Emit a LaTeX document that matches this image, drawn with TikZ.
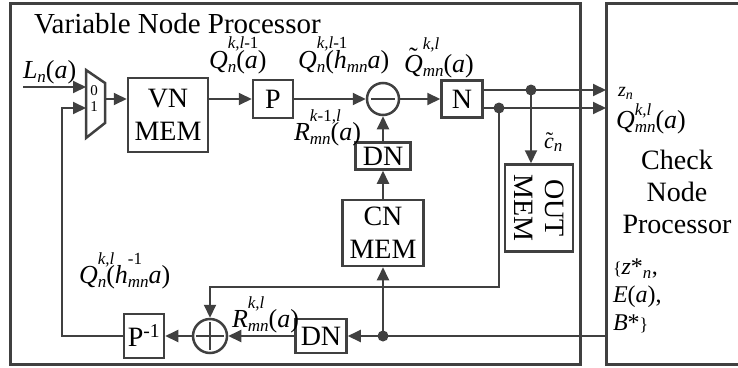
\documentclass[tikz,border=0pt]{standalone}
\usepackage{fontspec}
\setmainfont{Liberation Serif}
\usetikzlibrary{arrows.meta, positioning}

\newcommand{\lfnt}{\fontsize{26}{28}\selectfont}
\newcommand{\sfnt}{\fontsize{17}{17}\selectfont\itshape}
% symbol with stacked sub- and superscript
\newcommand{\ssb}[4][0.72em]{\textit{#2}\rlap{\raisebox{#1}{\sfnt #4}}\raisebox{-0.18em}{\sfnt #3}}
% letters with a tilde on top
\newcommand{\tq}{\rlap{\hspace{0.2em}\raisebox{0.24em}{\char"02DC}}\textit{Q}}
\newcommand{\tc}{\rlap{\hspace{0.08em}\raisebox{0.02em}{\char"02DC}}\textit{c}}

\begin{document}
\begin{tikzpicture}[x=1pt, y=-1pt, line width=2pt,
  box/.style={draw=wire, line width=2.5pt, fill=white, inner sep=0pt, align=center, font=\fontsize{28}{33}\selectfont},
  opcircle/.style={draw=wire, line width=2.5pt, fill=white, circle, minimum size=#1, inner sep=0pt},
  lbl/.style={inner sep=0pt, font=\lfnt},
  arr/.style={draw=wire, -{Triangle[length=13pt, width=12pt]}},
  dot/.style={circle, fill=wire, inner sep=0pt, minimum size=11pt}]

  % Colors
  \definecolor{wire}{RGB}{64,64,64}

  \useasboundingbox (0,0) rectangle (738,367);

  % Variable node processor frame
  \draw[draw=wire, line width=3pt] (10,3) rectangle (580,364);
  \node[anchor=base west, inner sep=0pt, font=\fontsize{29}{30}\selectfont] (vnptitle) at (33,33) {Variable Node Processor};

  % Check node processor frame (cut at the right edge)
  \draw[draw=wire, line width=3pt] (745,3) -- (606,3) -- (606,364) -- (745,364);
  \node[align=center, inner sep=0pt, font=\fontsize{28}{32}\selectfont] (cnptitle) at (677,192) {Check\\Node\\Processor};

  % Input multiplexer
  \draw[draw=wire, line width=2.5pt, fill=white] (86,70) -- (105,83) -- (105,123) -- (86,138) -- cycle;
  \node[inner sep=0pt, font=\fontsize{15}{15}\selectfont] (mux0) at (94,91) {0};
  \node[inner sep=0pt, font=\fontsize{15}{15}\selectfont] (mux1) at (94,107) {1};
  \coordinate (muxin0) at (86,87);
  \coordinate (muxin1) at (86,108);
  \coordinate (muxout) at (105,99);

  % Blocks
  \node[box, minimum width=80pt, minimum height=74pt] (vnmem) at (168,115) {VN\\MEM};
  \node[box, minimum width=40pt, minimum height=38pt] (p) at (273,99) {P};
  \node[opcircle=32pt] (minus) at (383,99) {};
  \node[box, minimum width=41pt, minimum height=37pt] (n) at (462,99) {N};
  \node[box, minimum width=55pt, minimum height=27pt] (dn1) at (383,156) {DN};
  \node[box, minimum width=81pt, minimum height=66pt] (cnmem) at (383,233) {CN\\MEM};
  \node[box, rotate=-90, minimum width=87pt, minimum height=68pt, font=\fontsize{28}{31}\selectfont] (outmem) at (539,208) {OUT\\MEM};
  \node[box, minimum width=51pt, minimum height=34pt] (dn2) at (321,336) {DN};
  \node[opcircle=34pt] (plus) at (210,336) {};
  \node[box, minimum width=40pt, minimum height=44pt] (pinv) at (144,336) {P\textsuperscript{-1}};

  % Signs in the circles
  \draw[draw=wire, line width=2.5pt] ([xshift=5pt]minus.west) -- ([xshift=-5pt]minus.east);
  \draw[draw=wire, line width=2.5pt] ([xshift=4pt]plus.west) -- ([xshift=-4pt]plus.east);
  \draw[draw=wire, line width=2.5pt] ([yshift=-4pt]plus.north) -- ([yshift=4pt]plus.south);

  % Junctions
  \node[dot] (dtop) at (531,90) {};
  \node[dot] (dbot) at (499,108) {};
  \node[dot] (dcn) at (383,336) {};
  \coordinate (lin) at (23,87);
  \coordinate (zin) at (606,90);
  \coordinate (qin) at (606,108);
  \coordinate (cnin) at (606,336);
  \coordinate (fb) at (62,108);

  % Forward path
  \draw[arr] (lin) -- (muxin0);
  \draw[arr] (muxout) -- (muxout -| vnmem.west);
  \draw[arr] (vnmem.east |- p.west) -- (p.west);
  \draw[arr] (p.east) -- (minus.west);
  \draw[arr] (minus.east) -- (n.west);
  \draw[arr] ([yshift=9pt]n.east) -- (zin);
  \draw[arr] ([yshift=-9pt]n.east) -- (qin);
  \draw[arr] (dtop.center) -- (dtop.center |- outmem.west);

  % Check node messages
  \draw[arr] (cnin) -- (dn2.east);
  \draw[arr] (dcn.center) -- (cnmem.south);
  \draw[arr] (cnmem.north) -- (dn1.south);
  \draw[arr] (dn1.north) -- (minus.south);

  % Feedback path
  \draw[arr] (dbot.center) -- ++(0,179) -| (plus.north);
  \draw[arr] (dn2.west) -- (plus.east);
  \draw[arr] (plus.west) -- (pinv.east);
  \draw[arr] (pinv.west) -| (fb) -- (muxin1);

  % Labels
  \node[lbl, anchor=base west] (lnlbl) at (22,78) {\textit{L}\raisebox{-0.18em}{\sfnt n}(\textit{a})};
  \node[lbl, anchor=base west] (qvlbl) at (208,68) {\ssb[0.76em]{Q}{n}{k,l\textup{-1}}(\textit{a})};
  \node[lbl, anchor=base west] (qplbl) at (297,68) {\ssb[0.76em]{Q}{n}{k,l\textup{-1}}(\textit{h}\raisebox{-0.18em}{\sfnt mn}\textit{a})};
  \node[lbl, anchor=base west] (rlbl) at (293,140) {\ssb{R}{mn}{k\textup{-1},l}(\textit{a})};
  \node[lbl, anchor=base west] (qtlbl) at (403,72) {\tq\rlap{\raisebox{0.85em}{\sfnt k,l}}\raisebox{-0.18em}{\sfnt mn}(\textit{a})};
  \node[lbl, anchor=base west] (zlbl) at (617,96) {\fontsize{20}{20}\selectfont\textit{z}\raisebox{-0.15em}{\fontsize{14}{14}\selectfont\itshape n}};
  \node[lbl, anchor=base west] (qclbl) at (615,128) {\ssb[0.5em]{Q}{mn}{k,l}(\textit{a})};
  \node[lbl, anchor=base west] (clbl) at (543,148) {\fontsize{22}{22}\selectfont\tc\raisebox{-0.15em}{\sfnt n}};
  \node[lbl, anchor=base west] (qflbl) at (78,283) {\ssb{Q}{n}{k,l}(\ssb{h}{mn}{\textup{-1}}\textit{a})};
  \node[lbl, anchor=base west] (rflbl) at (231,327) {\ssb{R}{mn}{k,l}(\textit{a})};
  \node[lbl, anchor=north west, align=left, font=\fontsize{24}{28}\selectfont] (cnout) at (612,258) {{\fontsize{18}{18}\selectfont\{}\textit{z}*\textsubscript{\textit{n}},\\ \textit{E}(\textit{a}),\\ \textit{B}*{\fontsize{18}{18}\selectfont\}}};

\end{tikzpicture}
\end{document}
